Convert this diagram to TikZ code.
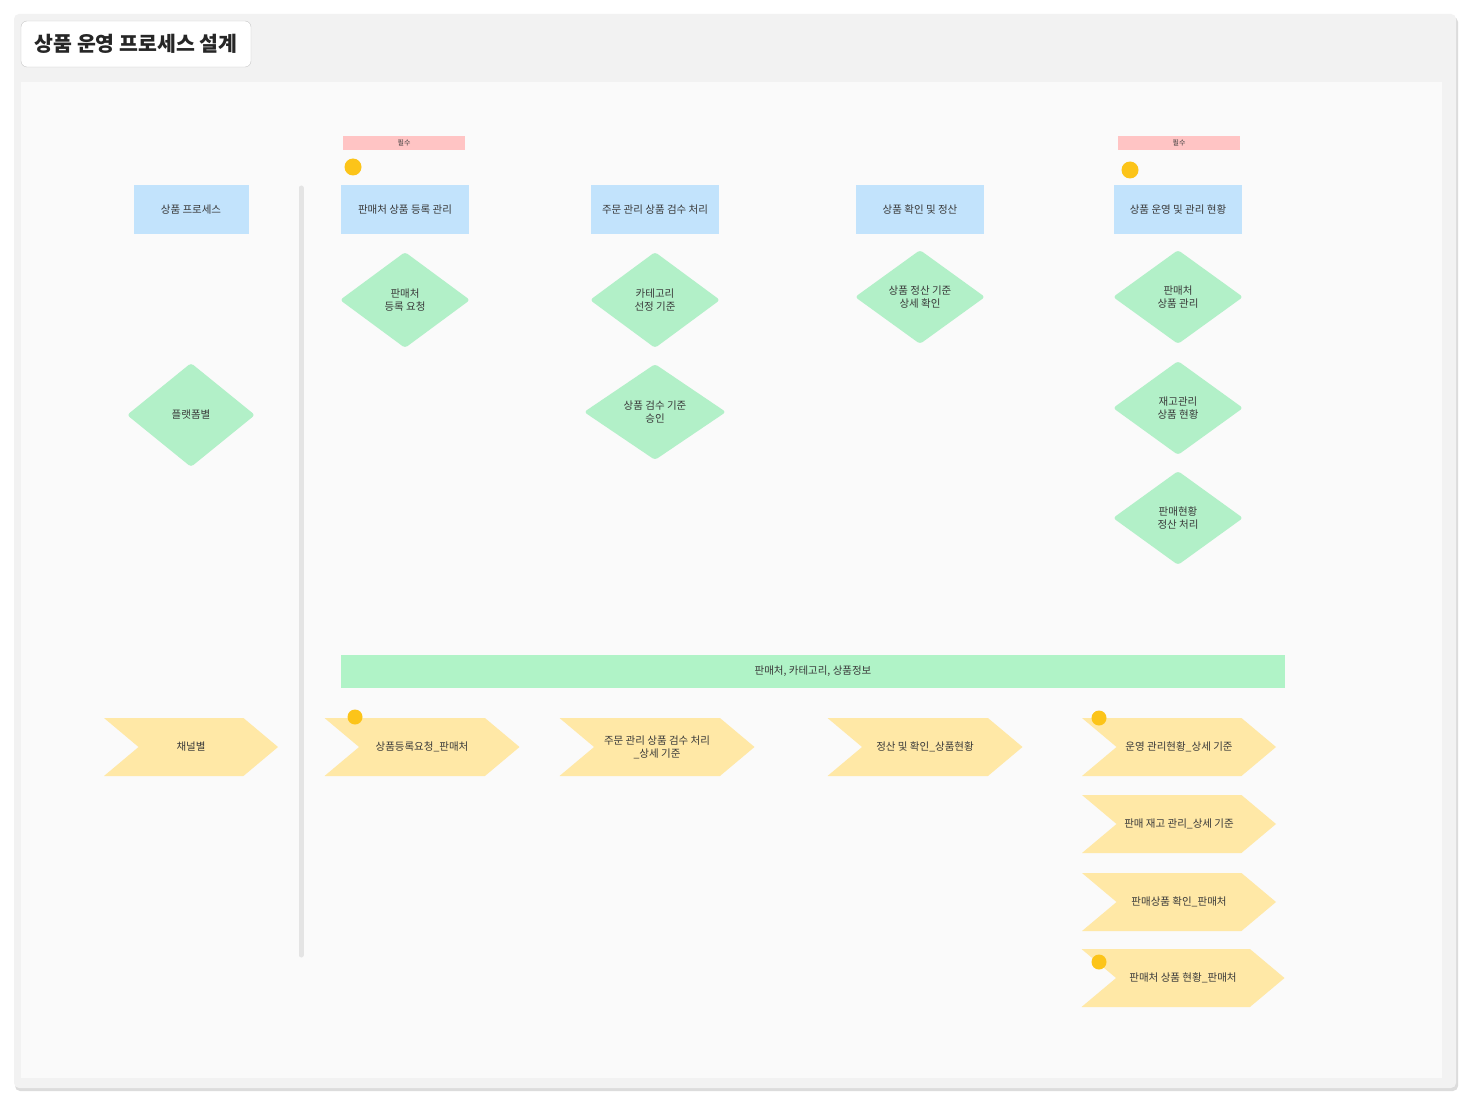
\documentclass[tikz,border=0pt]{standalone}
\usepackage{fontspec}
\setmainfont{Noto Sans CJK KR}
\usetikzlibrary{positioning}
\usetikzlibrary{shapes.geometric}
\usetikzlibrary{shapes.symbols}
\definecolor{boxblue}{HTML}{C2E3FC}
\definecolor{checkgreen}{HTML}{B2F0C8}
\definecolor{bargreen}{HTML}{B0F3C7}
\definecolor{flowyellow}{HTML}{FFE8A6}
\definecolor{tagred}{HTML}{FFC4C4}
\definecolor{dotyellow}{HTML}{FCC419}
\definecolor{paneltone}{HTML}{F2F2F2}
\definecolor{canvastone}{HTML}{FAFAFA}
\definecolor{shadowtone}{HTML}{DCDCDC}
\definecolor{linetone}{HTML}{E4E4E4}
\definecolor{inktone}{HTML}{3A3A3A}
\tikzset{
    x=1pt, y=-1pt,
    node distance=90pt,
    every node/.append style={
        text=inktone,
        font=\fontsize{10.5}{13}\selectfont,
        align=center
    },
    stage box/.style={
        rectangle,
        fill=boxblue,
        minimum width=128pt,
        minimum height=49pt,
        inner sep=2pt
    },
    check node/.style={
        diamond,
        fill=checkgreen,
        rounded corners=3pt,
        minimum width=130pt,
        minimum height=94pt,
        inner sep=0pt
    },
    flow node/.style={
        signal,
        signal from=west,
        signal to=east,
        signal pointer angle=80,
        fill=flowyellow,
        minimum width=195pt,
        minimum height=58pt,
        inner sep=0pt
    },
    tag bar/.style={
        rectangle,
        fill=tagred,
        minimum width=122pt,
        minimum height=14pt,
        inner sep=0pt,
        font=\fontsize{7}{8}\selectfont
    },
    marker dot/.style={
        circle,
        fill=dotyellow,
        minimum size=17pt,
        inner sep=0pt
    }
}

\begin{document}
\begin{tikzpicture}[title box/.style={draw=black!22, fill=white, rounded corners=6pt,
        minimum width=230pt, minimum height=46pt, font=\fontsize{20.5}{23}\selectfont\bfseries, text=black!85}]
    \useasboundingbox (0,0) rectangle (1470,1102);
    \fill[white] (0,0) rectangle (1470,1102);
    \fill[shadowtone, rounded corners=5pt] (15,17) rectangle (1458,1091);
    \fill[paneltone, rounded corners=5pt] (14,14) rectangle (1456,1088);
    \fill[canvastone] (21,82) rectangle (1442,1078);
    \node[title box] (title) at (136,44) {상품 운영 프로세스 설계};
    \draw[linetone, line width=5pt, line cap=round] (301,188) -- (301,955);

    \node[stage box, minimum width=115pt] (b0) at (191,210) {상품 프로세스};
    \node[check node, minimum width=128pt, minimum height=104pt, below of = b0, node distance=205pt] (d0) {플랫폼별};
    \node[flow node, minimum width=174pt, below of = d0, node distance=332pt] (f0) {채널별};

    \node[tag bar] (t1) at (404,143) {필수};
    \node[marker dot] (m1) at (353,167) {};
    \node[stage box] (b1) at (405,210) {판매처 상품 등록 관리};
    \node[check node, minimum height=96pt, below of = b1] (d11) {판매처\\등록 요청};
    \node[flow node] (f1) at (422,747) {상품등록요청\_판매처};
    \node[marker dot, minimum size=15pt] (m2) at (355,717) {};

    \node[stage box] (b2) at (655,210) {주문 관리 상품 검수 처리};
    \node[check node, minimum height=96pt, below of = b2] (d21) {카테고리\\선정 기준};
    \node[check node, minimum width=142pt, minimum height=96pt, below of = d21, node distance=112pt] (d22) {상품 검수 기준\\승인};
    \node[flow node] (f2) at (657,747) {주문 관리 상품 검수 처리\\\_상세 기준};

    \node[stage box] (b3) at (920,210) {상품 확인 및 정산};
    \node[check node, below of = b3, node distance=87pt] (d31) {상품 정산 기준\\상세 확인};
    \node[flow node] (f3) at (925,747) {정산 및 확인\_상품현황};

    \node[tag bar] (t4) at (1179,143) {필수};
    \node[marker dot] (m3) at (1130,170) {};
    \node[stage box] (b4) at (1178,210) {상품 운영 및 관리 현황};
    \node[check node, below of = b4, node distance=87pt] (d41) {판매처\\상품 관리};
    \node[check node, below of = d41, node distance=111pt] (d42) {재고관리\\상품 현황};
    \node[check node, below of = d42, node distance=110pt] (d43) {판매현황\\정산 처리};

    \node[bar node/.style={fill=bargreen, minimum width=944pt, minimum height=33pt, inner sep=0pt},
        bar node] (g1) at (813,671) {판매처, 카테고리, 상품정보};

    \node[flow node, minimum width=194pt] (f41) at (1179,747) {운영 관리현황\_상세 기준};
    \node[flow node, minimum width=194pt, below of = f41, node distance=77pt] (f42) {판매 재고 관리\_상세 기준};
    \node[flow node, minimum width=194pt, below of = f42, node distance=78pt] (f43) {판매상품 확인\_판매처};
    \node[flow node, minimum width=203pt, below of = f43, node distance=76pt, xshift=4pt] (f44) {판매처 상품 현황\_판매처};
    \node[marker dot, minimum size=15pt] (m4) at (1099,718) {};
    \node[marker dot, minimum size=15pt] (m5) at (1099,962) {};
\end{tikzpicture}
\end{document}
